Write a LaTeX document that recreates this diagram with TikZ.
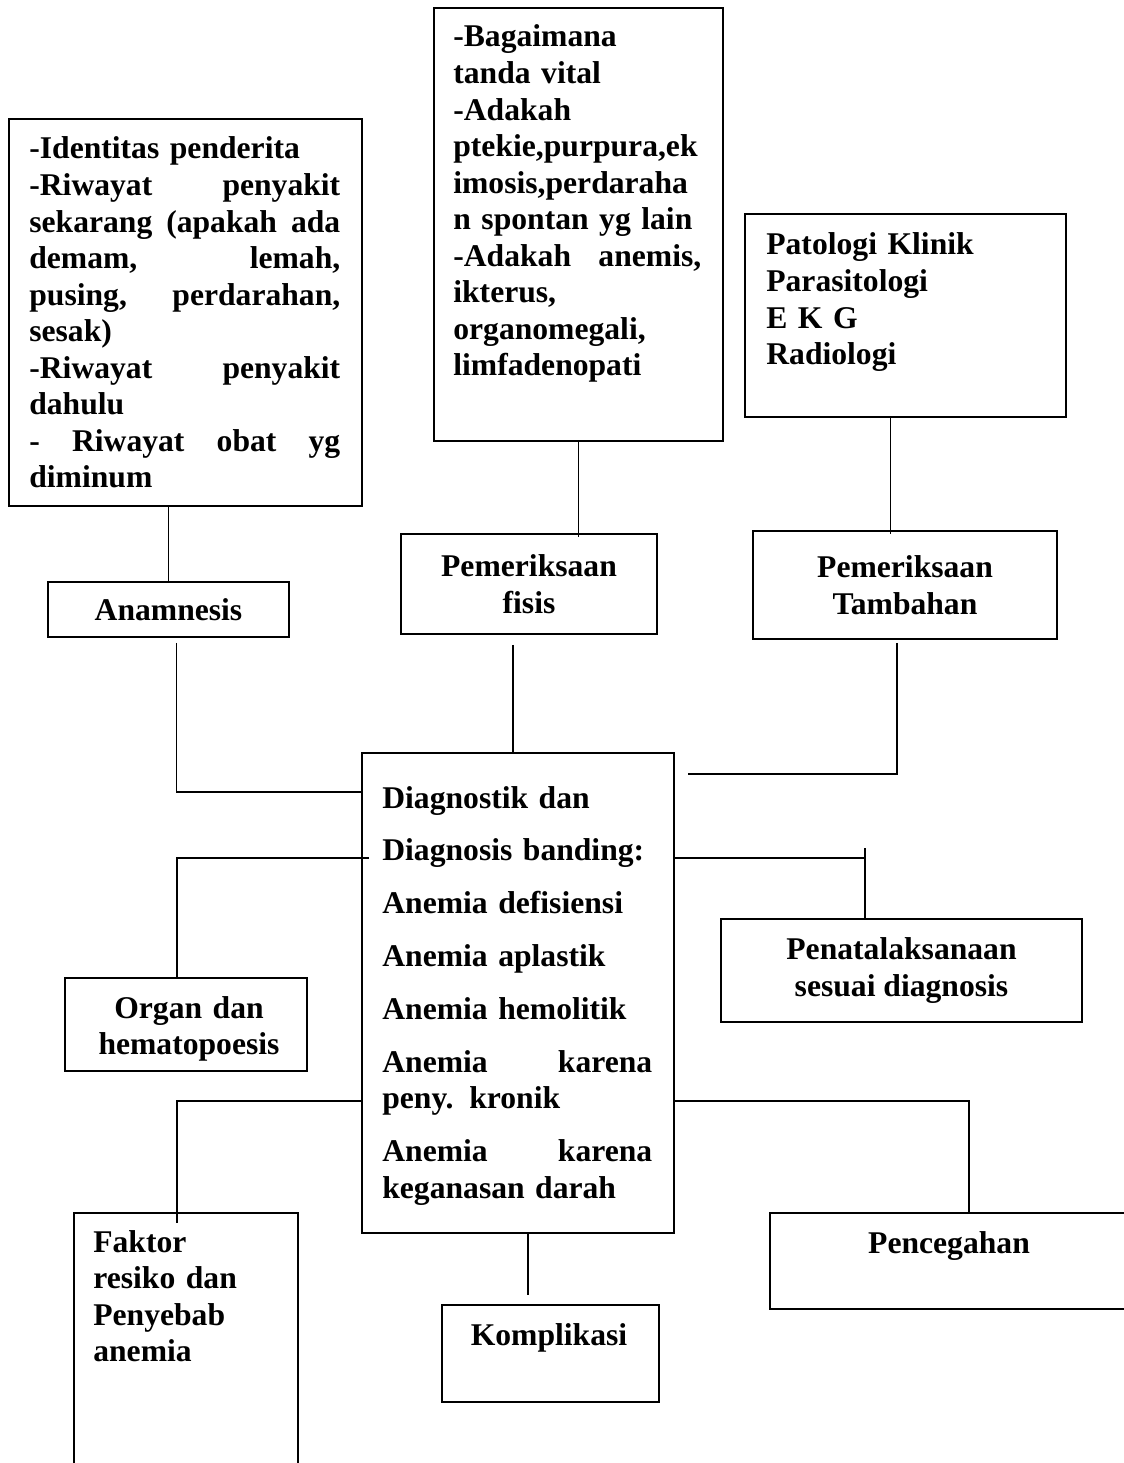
\documentclass[tikz,border=0pt]{standalone}
\usepackage{fontspec}
\setmainfont{Liberation Serif}
\hyphenpenalty=10000
\exhyphenpenalty=10000

\tikzset{
  box/.style={draw, line width=1.1pt, inner sep=0pt},
  bsize/.style 2 args={minimum width=#1*0.02cm, minimum height=#2*0.02cm},
  txt/.style={font=\fontsize{18}{20.8}\selectfont\bfseries, inner sep=0pt},
  para/.style={txt, align=left, anchor=base west, text width=#1},
  cpara/.style={txt, align=center, anchor=base, text width=#1},
  lbl/.style={box, txt, align=center},
  link/.style={line width=1.1pt},
}

\begin{document}
\begin{tikzpicture}[x=0.02cm, y=-0.02cm]
\useasboundingbox (0,0) rectangle (1123,1463);

% upper boxes with details
\node[box, bsize={353}{387}, anchor=north west] (anamdet) at (8,118) {};
\node[para=6.22cm] (anamtxt) at (29,159) {-Identitas penderita\\
  -Riwayat \hfill penyakit\\
  sekarang \hfill (apakah \hfill ada\\
  demam, \hfill lemah,\\
  pusing, \hfill perdarahan,\\
  sesak)\\
  -Riwayat \hfill penyakit\\
  dahulu\\
  - \hfill Riwayat \hfill obat \hfill yg\\
  diminum};

\node[box, bsize={289}{433}, anchor=north west] (fisdet) at (433,7) {};
\node[para=4.96cm] (fistxt) at (453,47) {-Bagaimana\\
  tanda vital\\
  -Adakah\\
  ptekie,purpura,ek\\
  imosis,perdaraha\\
  n spontan yg lain\\
  -Adakah \hfill anemis,\\
  ikterus,\\
  organomegali,\\
  limfadenopati};

\node[box, bsize={321}{203}, anchor=north west] (tamdet) at (744,213) {};
\node[para=5.6cm] (tamtxt) at (766,255) {Patologi Klinik\\
  Parasitologi\\
  E K G\\
  Radiologi};

% labels
\node[lbl, bsize={241}{55}] (anam) at (168.5,609.5) {Anamnesis};
\node[lbl, bsize={256}{100}] (fis) at (529,584) {Pemeriksaan\\fisis};
\node[lbl, bsize={304}{108}] (tam) at (905,585) {Pemeriksaan\\Tambahan};

% centre
\node[box, bsize={312}{480}, anchor=north west] (diag) at (361,752) {};
\node[para=5.4cm] (diagtxt) at (382,808) {Diagnostik dan\\[9.3pt]
  Diagnosis banding:\\[9.3pt]
  Anemia defisiensi\\[9.3pt]
  Anemia aplastik\\[9.3pt]
  Anemia hemolitik\\[9.3pt]
  Anemia \hfill karena\\
  peny. kronik\\[9.3pt]
  Anemia \hfill karena\\
  keganasan darah};

\node[lbl, bsize={361}{103}] (pen) at (901.5,970.5) {Penatalaksanaan\\sesuai diagnosis};
\node[box, bsize={242}{93}, anchor=north west] (org) at (64,977) {};
\node[cpara=4.6cm] (orgtxt) at (189,1018) {Organ dan\\hematopoesis};

% lower boxes
\node[box, bsize={224}{268}, anchor=north west] (fak) at (73,1212) {};
\node[para=4cm] (faktxt) at (93,1252) {Faktor\\
  resiko dan\\
  Penyebab\\
  anemia};
\node[box, bsize={217}{97}, anchor=north west] (kom) at (441,1304) {};
\node[txt, anchor=base] (komtxt) at (549,1345) {Komplikasi};
\node[box, bsize={371}{96}, anchor=north west] (ceg) at (769,1212) {};
\node[txt, anchor=base] (cegtxt) at (949,1253) {Pencegahan};

% junctions
\coordinate (jA) at (176.5,792);
\coordinate (jT) at (897,774);
\coordinate (jO) at (177,858);
\coordinate (jP) at (865,858);
\coordinate (jF) at (177,1101);
\coordinate (jC) at (969,1101);

% connectors
\draw[link] (anamdet.south -| anam.north) -- (anam.north);
\draw[link] (fisdet.south) -- ([yshift=-0.08cm]fisdet.south |- fis.north);
\draw[link] ([xshift=-0.3cm]tamdet.south) -- ([xshift=-0.3cm,yshift=-0.08cm]tamdet.south |- tam.north);
\draw[link] ([yshift=-0.1cm]anam.south -| jA) -- (jA) -- (jA -| diag.west);
\draw[link] ([xshift=-0.32cm,yshift=-0.2cm]fis.south) -- ([xshift=-0.32cm]fis.south |- diag.north);
\draw[link] ([yshift=-0.06cm]tam.south -| jT) -- (jT) -- ([xshift=0.26cm]jT -| diag.east);
\draw[link] ([xshift=0.16cm]jO -| diag.west) -- (jO) -- (jO |- org.north);
\draw[link] (jP -| diag.east) -- (jP);
\draw[link] ([yshift=0.2cm]jP) -- (jP |- pen.north);
\draw[link] (jF -| diag.west) -- (jF) -- ([yshift=-0.22cm]jF |- fak.north);
\draw[link] (jC -| diag.east) -- (jC) -- (jC |- ceg.north);
\draw[link] ([xshift=0.2cm]diag.south) -- ([xshift=0.2cm,yshift=0.18cm]diag.south |- kom.north);
\end{tikzpicture}
\end{document}
